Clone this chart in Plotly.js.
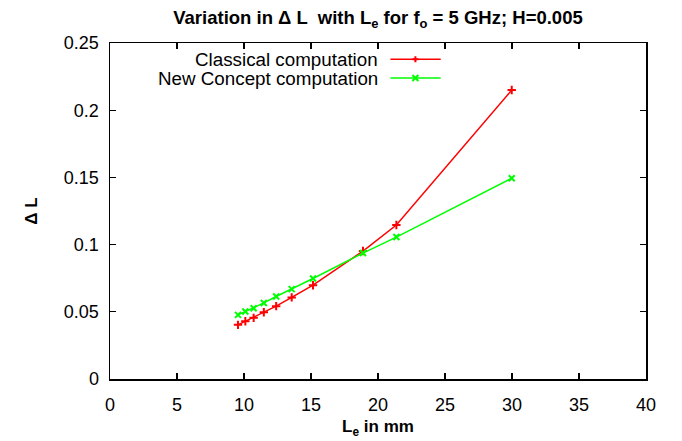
<!DOCTYPE html>
<html>
<head>
<meta charset="utf-8">
<script src="https://cdn.plot.ly/plotly-3.0.1.min.js"></script>
<style>html,body{margin:0;padding:0;background:#fff;}#chart{width:682px;height:441px;}</style>
</head>
<body>
<div id="chart"></div>
<script>
const lengthMM = [9.55, 10.1, 10.72, 11.48, 12.4, 13.56, 15.15, 18.88, 21.37, 29.98];
const classicalDL = [0.0403, 0.0430, 0.0455, 0.0497, 0.0542, 0.0607, 0.0698, 0.0952, 0.1146, 0.2150];
const newConceptDL = [0.0477, 0.0502, 0.0527, 0.0566, 0.0614, 0.0669, 0.0748, 0.0937, 0.1056, 0.1494];
const seriesNames = ["Classical computation", "New Concept computation"];
const xTicks = [0, 5, 10, 15, 20, 25, 30, 35, 40];
const yTicks = [0, 0.05, 0.1, 0.15, 0.2, 0.25];

const FONT = "Liberation Sans, Arial, sans-serif";
const red = "#ff0000", green = "#00ff00";

const traces = [
  {x: lengthMM, y: classicalDL, type: "scatter", mode: "lines+markers", name: seriesNames[0],
   line: {color: red, width: 1.5},
   marker: {symbol: "cross-thin", size: 6, color: red, line: {color: red, width: 2}}},
  {x: lengthMM, y: newConceptDL, type: "scatter", mode: "lines+markers", name: seriesNames[1],
   line: {color: green, width: 1.5},
   marker: {symbol: "x-thin", size: 6, color: green, line: {color: green, width: 2}}}
];

// legend drawn gnuplot-style (text left, sample right)
const L = 110.3, R = 646.3, T = 43.3, B = 378.7;
const px = v => (v - L) / (R - L);
const py = v => (B - v) / (B - T);
const legRows = [59.5, 78.3];
const shapes = [];
const annotations = [];
const colors = [red, green];
legRows.forEach((yy, i) => {
  shapes.push({type: "line", xref: "paper", yref: "paper", x0: px(390.7), x1: px(441), y0: py(yy), y1: py(yy),
               line: {color: colors[i], width: 1.5}});
  const cx = 415.7, s = 3;
  let path;
  if (i === 0) {
    path = `M${px(cx - s)},${py(yy)} L${px(cx + s)},${py(yy)} M${px(cx)},${py(yy - s)} L${px(cx)},${py(yy + s)}`;
  } else {
    path = `M${px(cx - s)},${py(yy - s)} L${px(cx + s)},${py(yy + s)} M${px(cx - s)},${py(yy + s)} L${px(cx + s)},${py(yy - s)}`;
  }
  shapes.push({type: "path", xref: "paper", yref: "paper", path: path, line: {color: colors[i], width: 2}});
  annotations.push({xref: "paper", yref: "paper", x: px(380), y: py(yy), xanchor: "right", yanchor: "middle",
                    showarrow: false, text: seriesNames[i], font: {family: FONT, size: 18.8, color: "#000"}});
});

const axisCommon = {
  showline: true, linecolor: "#000", linewidth: 1.5, mirror: "allticks",
  ticks: "inside", ticklen: 6, tickwidth: 1.2, tickcolor: "#000",
  showgrid: false, zeroline: false,
  tickfont: {family: FONT, size: 18, color: "#000"}
};

const layout = {
  width: 682, height: 441,
  paper_bgcolor: "#fff", plot_bgcolor: "#fff",
  margin: {l: L, r: 682 - R, t: T, b: 441 - B, pad: 0},
  showlegend: false,
  title: {text: "<b>Variation in Δ L  with L<sub>e</sub> for f<sub>o</sub> = 5 GHz; H=0.005</b>",
          font: {family: FONT, size: 18.5, color: "#000"},
          x: 0.5, xref: "paper", y: 1 - 18 / 441, yref: "container", yanchor: "middle"},
  xaxis: Object.assign({}, axisCommon, {
    range: [0, 40], tickvals: xTicks, ticktext: xTicks.map(String),
    ticklabelstandoff: 9,
    title: {text: "<b>L<sub>e</sub> in mm</b>", font: {family: FONT, size: 17, color: "#000"}, standoff: 6}
  }),
  yaxis: Object.assign({}, axisCommon, {
    range: [0, 0.25], tickvals: yTicks, ticktext: yTicks.map(String),
    ticklabelstandoff: 6,
    title: {text: "<b>Δ L</b>", font: {family: FONT, size: 17, color: "#000"}, standoff: 22}
  }),
  shapes: shapes,
  annotations: annotations
};

Plotly.newPlot("chart", traces, layout, {displayModeBar: false, staticPlot: true});
</script>
</body>
</html>
